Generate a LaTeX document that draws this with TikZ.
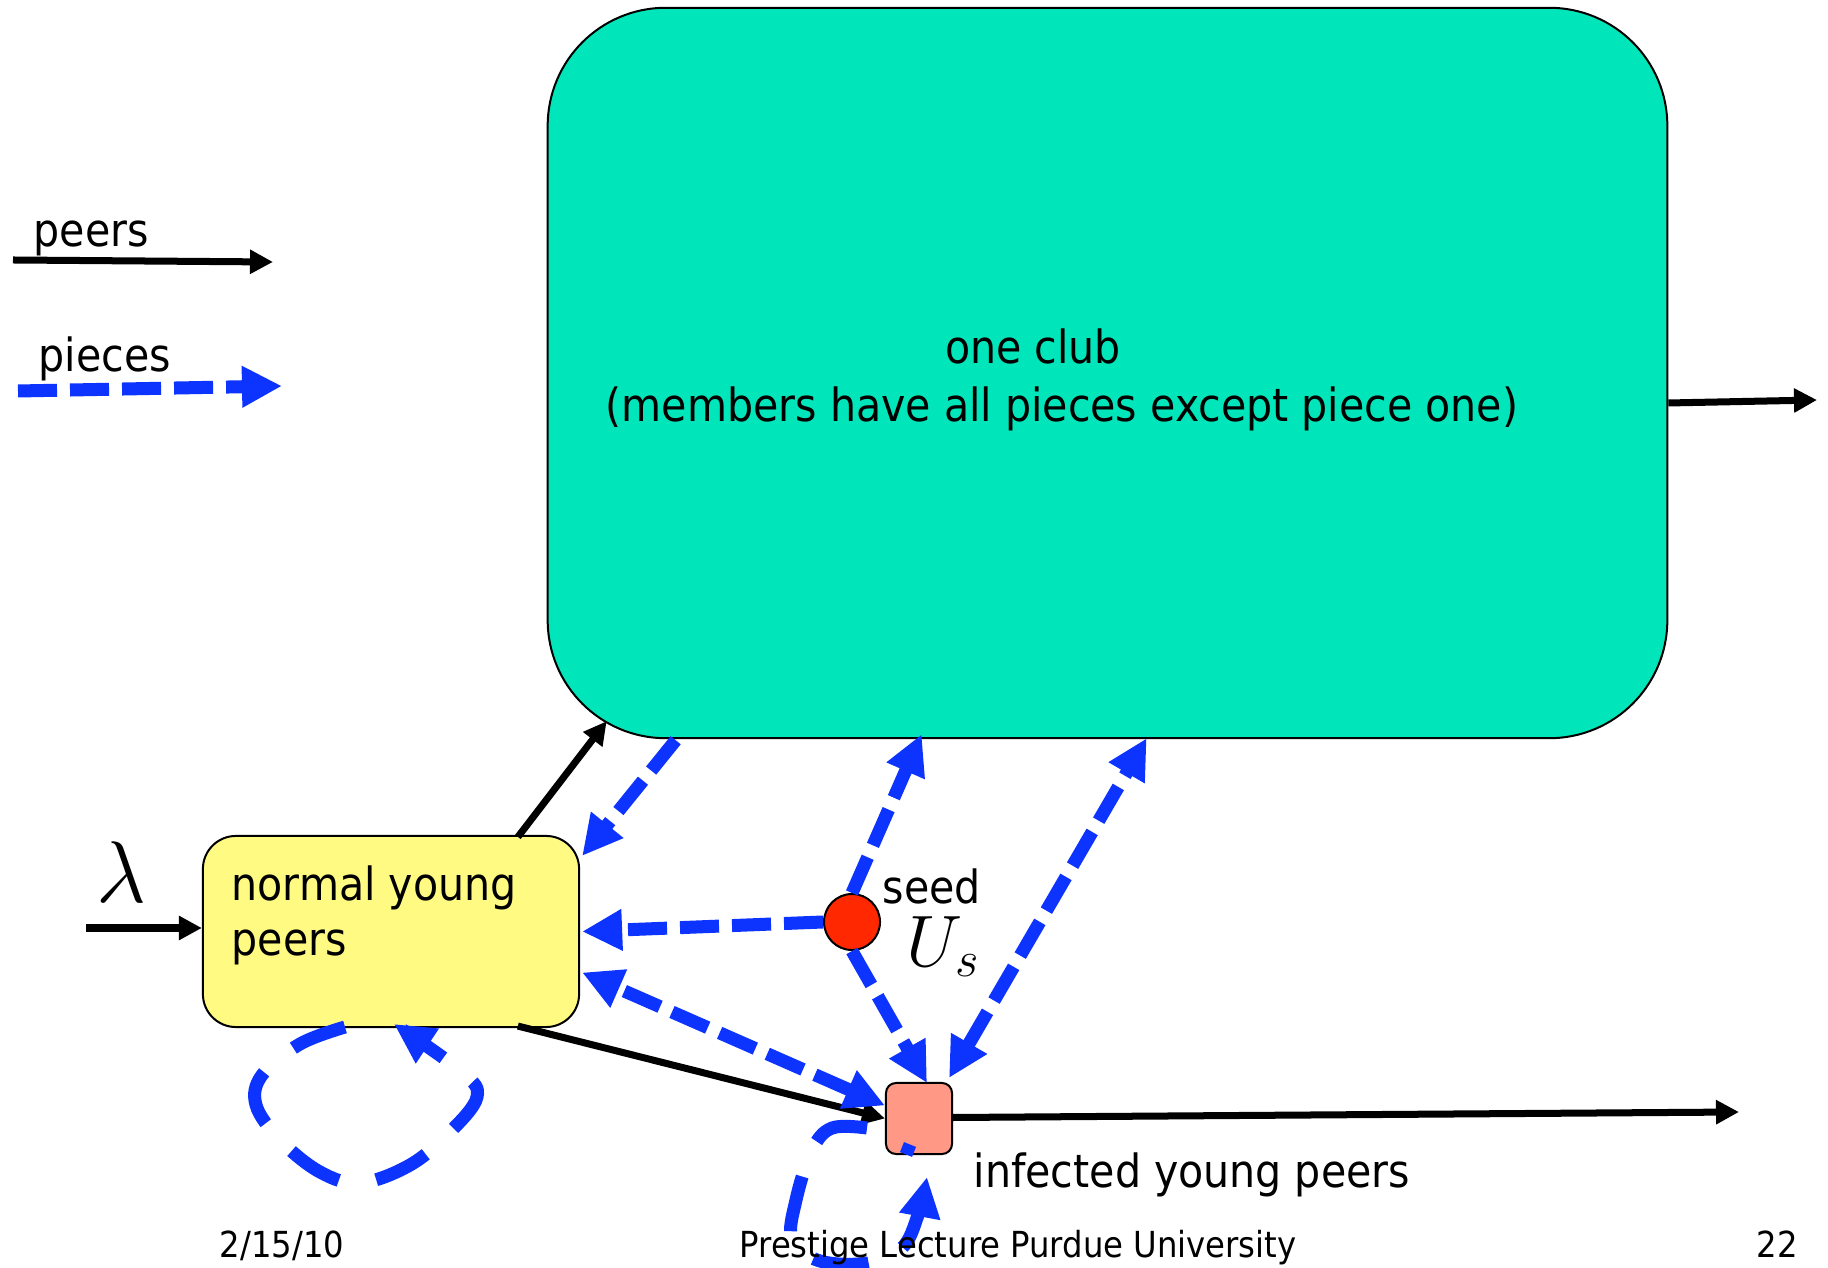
\documentclass[tikz,border=0pt]{standalone}
\usepackage{fontspec}
\setmainfont{DejaVu Sans Condensed}
\usetikzlibrary{arrows.meta,calc}

\definecolor{clubgreen}{HTML}{00E6BA}
\definecolor{youngyellow}{HTML}{FFFA82}
\definecolor{infsalmon}{HTML}{FF9884}
\definecolor{seedred}{HTML}{FF2800}
\definecolor{pieceblue}{HTML}{0D33FF}

\begin{document}
\begin{tikzpicture}[x=0.01cm, y=-0.01cm,
  peer/.style={line width=0.07cm, -{Triangle[length=0.23cm,width=0.23cm]}},
  piece/.style={line width=0.13cm, color=pieceblue,
    dash pattern=on 0.39cm off 0.13cm,
    -{Triangle[length=0.40cm,width=0.39cm]}},
  twoway/.style={piece,
    {Triangle[length=0.40cm,width=0.39cm]}-{Triangle[length=0.40cm,width=0.39cm]}},
  selfloop/.style={piece, dash pattern=on 0.56cm off 0.38cm},
  lbl/.style={inner sep=0, font=\fontsize{13}{15.6}\selectfont},
  footer/.style={inner sep=0, font=\fontsize{10.2}{12}\selectfont},
  clubbox/.style={draw, line width=0.02cm, fill=clubgreen, rounded corners=1.18cm,
    minimum width=11.19cm, minimum height=7.30cm, inner sep=0},
  youngbox/.style={draw, line width=0.02cm, fill=youngyellow, rounded corners=0.33cm,
    minimum width=3.76cm, minimum height=1.91cm, inner sep=0},
  infbox/.style={draw, line width=0.02cm, fill=infsalmon, rounded corners=0.1cm,
    minimum width=0.66cm, minimum height=0.71cm, inner sep=0},
  seedball/.style={circle, draw, line width=0.02cm, fill=seedred,
    minimum size=0.56cm, inner sep=0},
]
\fill[white] (0,0) rectangle (1828,1268);
\useasboundingbox (0,0) rectangle (1828,1268);

% legend
\node[lbl, anchor=base west] (peerskey) at (33,247) {peers};
\coordinate (pk1) at (13,260);
\coordinate (pk2) at (273,262);
\draw[peer] (pk1) -- (pk2);
\node[lbl, anchor=base west] (pieceskey) at (38,372) {pieces};
\coordinate (pc1) at (18,391);
\coordinate (pc2) at (282,386);
\draw[piece] (pc1) -- (pc2);

% main boxes
\node[clubbox] (club) at (1107.5,373) {};
\node[lbl, anchor=base] (clubtitle) at (1033,364) {one club};
\node[lbl, anchor=base] (clubnote) at (1062,422) {(members have all pieces except piece one)};

\node[youngbox] (young) at (391,931.5) {};
\node[lbl, anchor=north west, align=left] (youngtext) at (231,865) {normal young\\peers};

\node[infbox] (inf) at (919,1118.5) {};
\node[lbl, anchor=base west] (inflabel) at (973,1187) {infected young peers};

\node[seedball] (seed) at (852,922) {};
\node[lbl, anchor=base west] (seedlabel) at (882,903) {seed};
\node[anchor=base west, inner sep=0, font=\fontsize{19.5}{23}\selectfont] (seedrate) at (906,966) {$U_s$};

\node[inner sep=0, font=\fontsize{27.5}{30}\selectfont] (rate) at (121,872) {$\lambda$};

% self-loop of the normal young peers
\draw[selfloop] plot[smooth, tension=0.6] coordinates {(345,1027) (300,1044) (262,1075) (256,1105) (280,1140) (320,1172) (360,1183) (410,1165) (450,1132) (477,1097) (462,1072) (394,1024)};

% peer flows
\coordinate (lamin) at (86,928);
\draw[peer] (lamin) -- (lamin -| young.west);
\draw[peer] ($(young.north west)+(316,2)$) -- ($(club.south west)+(60,-18)$);
\coordinate (clubout) at (1817,400);
\draw[peer] ($(club.east)+(0,30)$) -- (clubout);
\draw[peer] ($(young.south west)+(316,-2)$) -- (inf.west);
\coordinate (infout) at (1739,1112);
\draw[peer] ($(inf.east)+(0,-1)$) -- (infout);

% piece flows
\draw[piece] ($(club.south west)+(129,1)$) -- ($(young.north east)+(2,21)$);
\draw[piece] (seed.north) -- ($(club.south west)+(375,-5)$);
\draw[twoway] ($(inf.north east)+(-4,-4)$) -- ($(club.south west)+(600,-1)$);
\draw[piece] (seed.west) -- ($(young.east)+(2,0)$);
\draw[piece] (seed.south) -- ($(inf.north)+(8,1)$);
\draw[twoway] ($(inf.west)+(0,-13)$) -- ($(young.east)+(2,41)$);

% self-loop of the infected young peers
\draw[selfloop] ($(inf.center)+(-9,26)$) -- ($(inf.center)+(-13,36)$)
  plot[smooth, tension=0.6] coordinates {(867,1128) (832,1128) (812,1150) (796,1200) (792,1240) (820,1261) (868,1263) (902,1248) (918,1215) (927,1177)};

% footer
\node[footer, anchor=base] (date) at (282,1257) {2/15/10};
\node[footer, anchor=base] (venue) at (1018,1257) {Prestige Lecture Purdue University};
\node[footer, anchor=base] (pageno) at (1777,1257) {22};
\end{tikzpicture}
\end{document}
